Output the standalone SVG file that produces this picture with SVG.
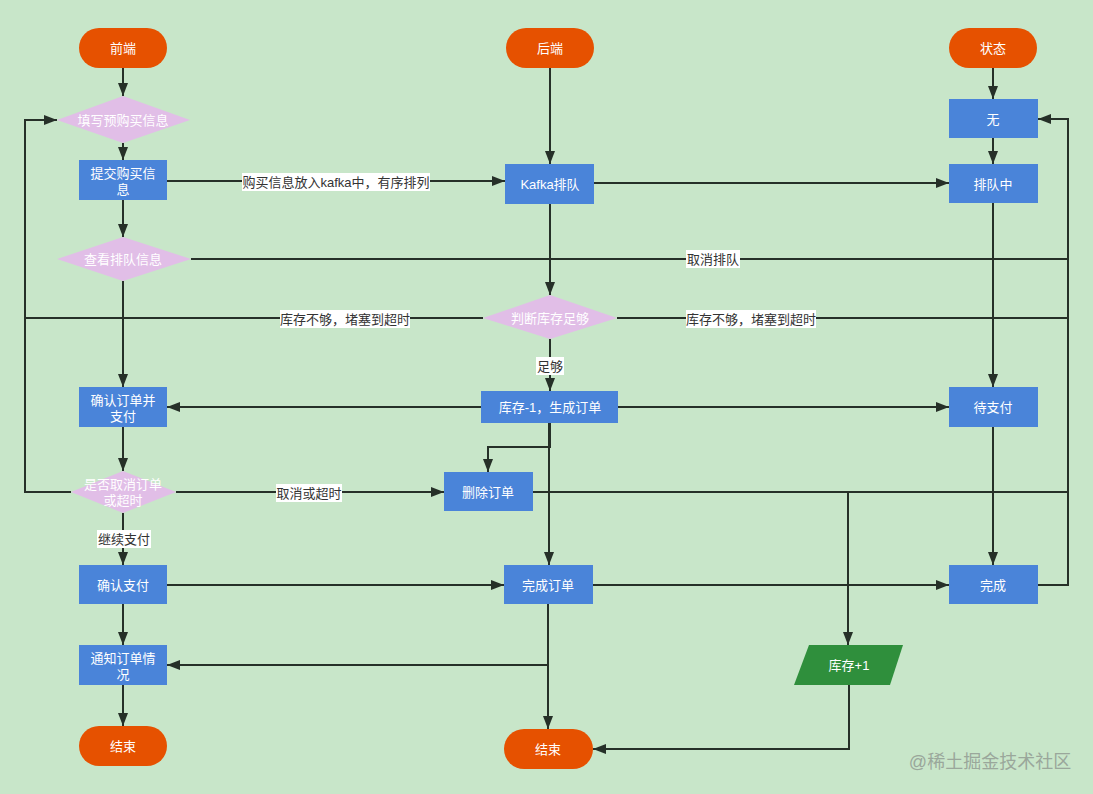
<svg xmlns="http://www.w3.org/2000/svg" width="1093" height="794" viewBox="0 0 1093 794">
<defs>
<marker id="arr" markerWidth="13" markerHeight="10" refX="13" refY="5" orient="auto" markerUnits="userSpaceOnUse">
<path d="M0,0 L13,5 L0,10 Z" fill="#263028"/>
</marker>
<style>
.term{fill:#e65100;}
.proc{fill:#4a84d9;}
.dec{fill:#e1bee7;}
.io{fill:#2f8f3c;}
.nt{font-family:"Liberation Sans","Noto Sans CJK SC",sans-serif;font-size:13px;fill:#ffffff;text-anchor:middle;dominant-baseline:central;}
.ln{fill:none;stroke:#263028;stroke-width:2;}
.ar{marker-end:url(#arr);}
.lb{font-family:"Liberation Sans","Noto Sans CJK SC",sans-serif;font-size:13px;fill:#333333;text-anchor:middle;dominant-baseline:central;}
.lbg{fill:#ffffff;}
</style>
</defs>
<rect x="0" y="0" width="1093" height="794" fill="#c8e6c9"/>

<g id="connectors">
<path class="ln ar" d="M123,68 V96"/>
<path class="ln ar" d="M123,143 V160"/>
<path class="ln ar" d="M123,200 V237"/>
<path class="ln ar" d="M123,281 V387"/>
<path class="ln ar" d="M123,427 V471"/>
<path class="ln ar" d="M123,513 V565"/>
<path class="ln ar" d="M123,604 V645"/>
<path class="ln ar" d="M123,685 V726"/>
<path class="ln ar" d="M167,181 H505"/>
<path class="ln ar" d="M550,68 V164"/>
<path class="ln ar" d="M594,183 H949"/>
<path class="ln ar" d="M550,204 V295"/>
<path class="ln" d="M191,259 H1068"/>
<path class="ln ar" d="M1037,585 H1068 V119 H1038"/>
<path class="ln ar" d="M71,492 H25 V120 H57"/>
<path class="ln" d="M483,318 H25"/>
<path class="ln" d="M617,318 H1068"/>
<path class="ln ar" d="M550,339 V391"/>
<path class="ln ar" d="M481,407 H167"/>
<path class="ln ar" d="M618,407 H949"/>
<path class="ln ar" d="M550,423 V447 H488 V472"/>
<path class="ln ar" d="M549,423 V565"/>
<path class="ln ar" d="M176,492 H444"/>
<path class="ln" d="M533,492 H1068"/>
<path class="ln ar" d="M848,492 V645"/>
<path class="ln ar" d="M167,585 H504"/>
<path class="ln ar" d="M593,585 H949"/>
<path class="ln ar" d="M548,604 V729"/>
<path class="ln ar" d="M548,665 H167"/>
<path class="ln ar" d="M849,685 V749 H593"/>
<path class="ln ar" d="M993,203 V387"/>
<path class="ln ar" d="M993,427 V565"/>
<path class="ln ar" d="M993,68 V99"/>
<path class="ln ar" d="M993,138 V164"/>
<rect class="lbg" x="242" y="173" width="188" height="18"/>
<text class="lb" x="336" y="182">购买信息放入kafka中，有序排列</text>
<rect class="lbg" x="686" y="250" width="54" height="18"/>
<text class="lb" x="713" y="259">取消排队</text>
<rect class="lbg" x="280" y="310" width="130" height="18"/>
<text class="lb" x="345" y="319">库存不够，堵塞到超时</text>
<rect class="lbg" x="686" y="310" width="130" height="18"/>
<text class="lb" x="751" y="319">库存不够，堵塞到超时</text>
<rect class="lbg" x="536" y="357" width="28" height="18"/>
<text class="lb" x="550" y="366">足够</text>
<rect class="lbg" x="276" y="484" width="66" height="18"/>
<text class="lb" x="309" y="493">取消或超时</text>
<rect class="lbg" x="97" y="530" width="54" height="18"/>
<text class="lb" x="124" y="539">继续支付</text>
</g>

<g id="n-frontend"><rect class="term" x="79" y="28" width="88" height="40" rx="20"/><text class="nt" x="123" y="48">前端</text></g>
<g id="n-backend"><rect class="term" x="506" y="28" width="88" height="40" rx="20"/><text class="nt" x="550" y="48">后端</text></g>
<g id="n-state"><rect class="term" x="949" y="28" width="88" height="40" rx="20"/><text class="nt" x="993" y="48">状态</text></g>

<g id="n-fill"><polygon class="dec" points="57,120 123,96 190,120 123,143"/><text class="nt" x="123" y="120">填写预购买信息</text></g>
<g id="n-submit"><rect class="proc" x="79" y="160" width="88" height="40"/><text class="nt" x="123" y="173">提交购买信</text><text class="nt" x="123" y="189">息</text></g>
<g id="n-view"><polygon class="dec" points="57,259 123,237 191,259 123,281"/><text class="nt" x="123" y="259">查看排队信息</text></g>
<g id="n-confirm"><rect class="proc" x="79" y="387" width="88" height="40"/><text class="nt" x="123" y="400">确认订单并</text><text class="nt" x="123" y="416">支付</text></g>
<g id="n-cancel"><polygon class="dec" points="71,492 123,471 176,492 123,513"/><text class="nt" x="123" y="484">是否取消订单</text><text class="nt" x="123" y="500">或超时</text></g>
<g id="n-pay"><rect class="proc" x="79" y="565" width="88" height="39"/><text class="nt" x="123" y="585">确认支付</text></g>
<g id="n-notify"><rect class="proc" x="79" y="645" width="88" height="40"/><text class="nt" x="123" y="658">通知订单情</text><text class="nt" x="123" y="674">况</text></g>
<g id="n-end1"><rect class="term" x="79" y="726" width="88" height="40" rx="20"/><text class="nt" x="123" y="746">结束</text></g>

<g id="n-kafka"><rect class="proc" x="505" y="164" width="89" height="40"/><text class="nt" x="550" y="184">Kafka排队</text></g>
<g id="n-judge"><polygon class="dec" points="483,318 550,295 617,318 550,339"/><text class="nt" x="550" y="318">判断库存足够</text></g>
<g id="n-gen"><rect class="proc" x="481" y="391" width="137" height="32"/><text class="nt" x="550" y="407">库存-1，生成订单</text></g>
<g id="n-del"><rect class="proc" x="444" y="472" width="89" height="39"/><text class="nt" x="488" y="492">删除订单</text></g>
<g id="n-done"><rect class="proc" x="504" y="565" width="89" height="39"/><text class="nt" x="548" y="585">完成订单</text></g>
<g id="n-end2"><rect class="term" x="504" y="729" width="89" height="40" rx="20"/><text class="nt" x="548" y="749">结束</text></g>

<g id="n-none"><rect class="proc" x="949" y="99" width="89" height="39"/><text class="nt" x="993" y="119">无</text></g>
<g id="n-queue"><rect class="proc" x="949" y="164" width="89" height="39"/><text class="nt" x="993" y="184">排队中</text></g>
<g id="n-wait"><rect class="proc" x="949" y="387" width="89" height="40"/><text class="nt" x="993" y="407">待支付</text></g>
<g id="n-fin"><rect class="proc" x="949" y="565" width="89" height="39"/><text class="nt" x="993" y="585">完成</text></g>
<g id="n-stock"><polygon class="io" points="809,645 903,645 890,685 794,685"/><text class="nt" x="849" y="665">库存+1</text></g>

<text x="990" y="762" font-family="Liberation Sans,'Noto Sans CJK SC',sans-serif" font-size="18" fill="#9aa79b" text-anchor="middle" dominant-baseline="central">@稀土掘金技术社区</text>
</svg>
